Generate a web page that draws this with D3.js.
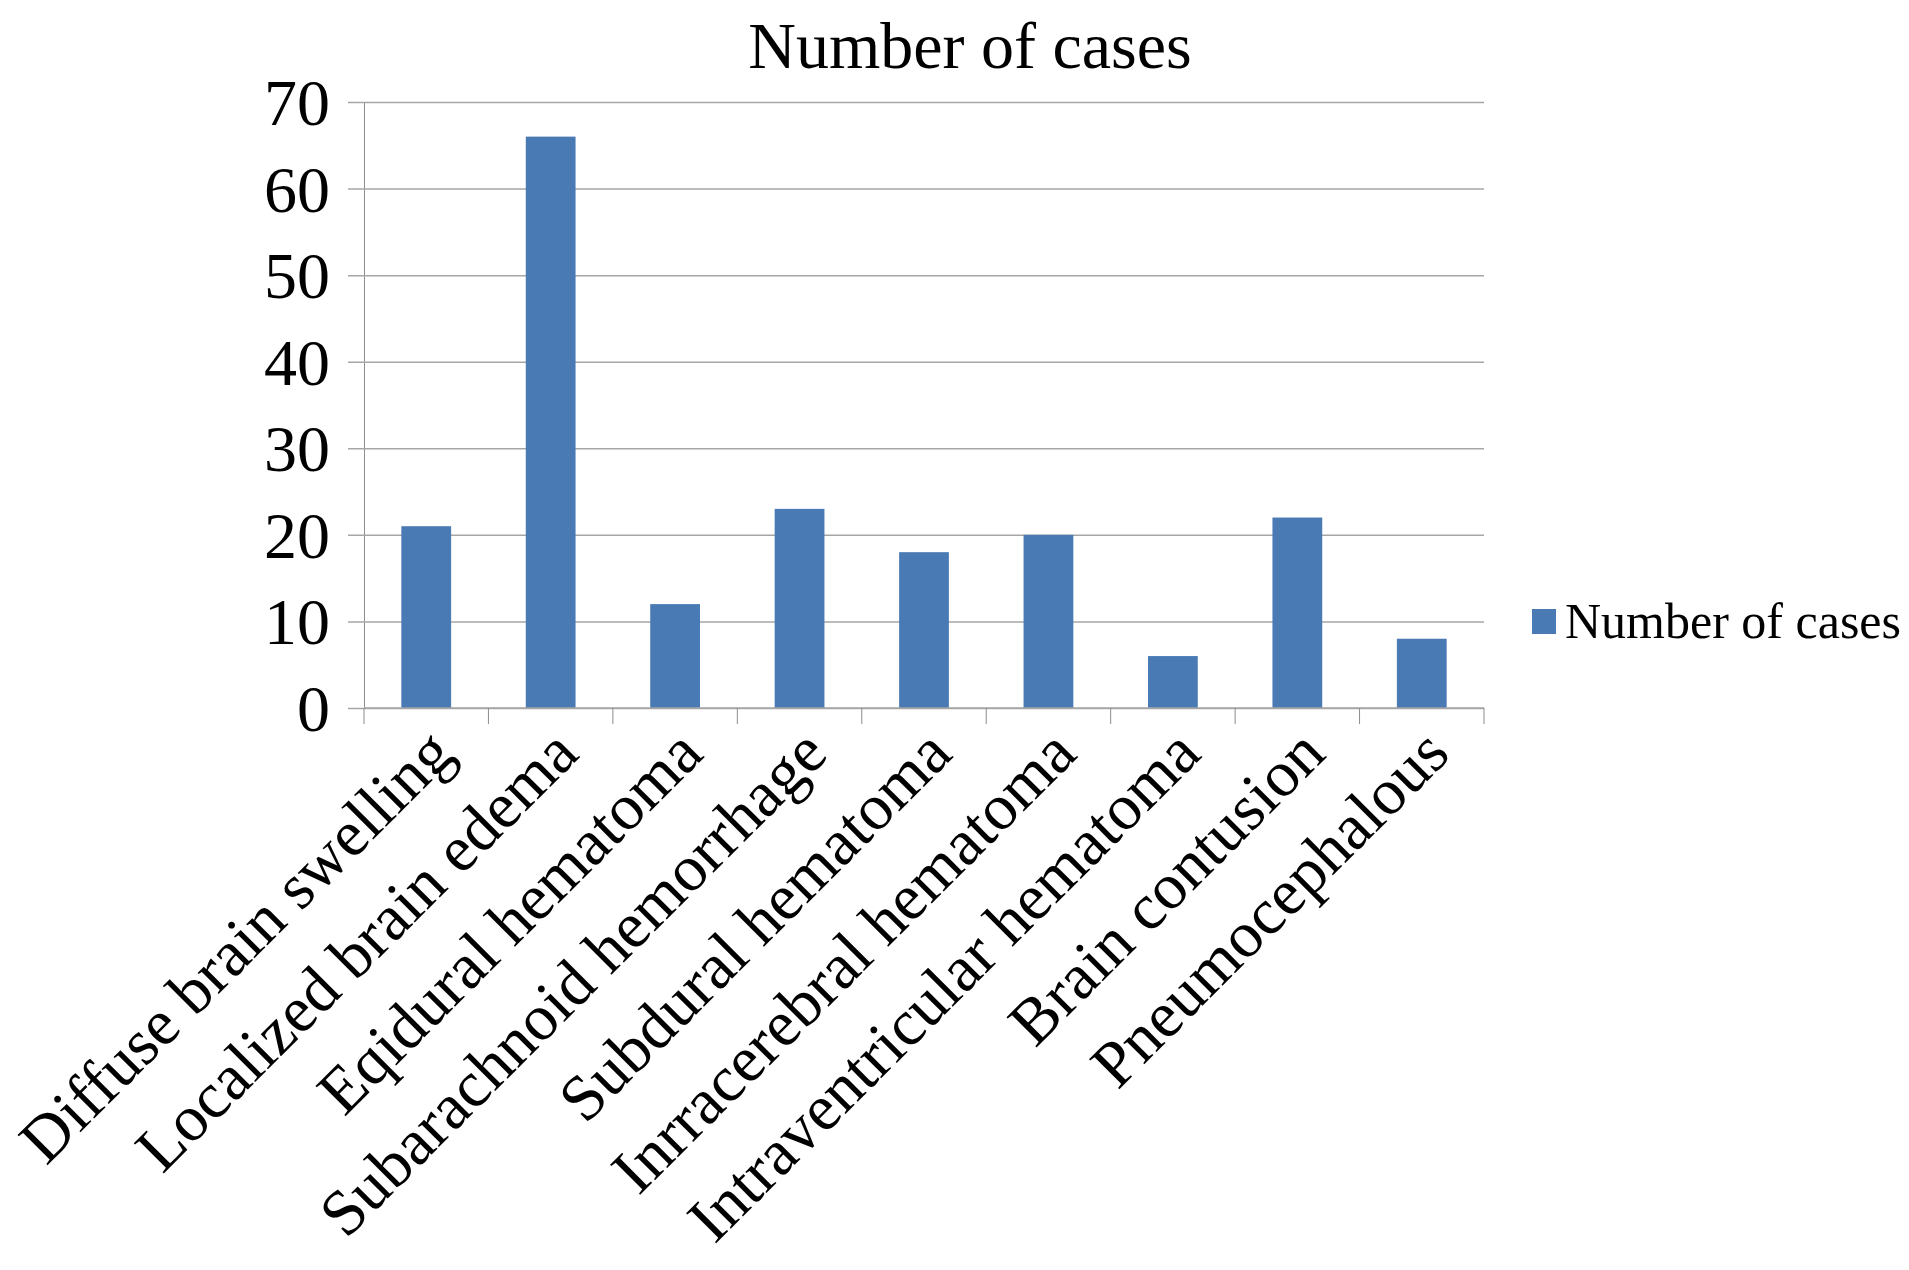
<!DOCTYPE html>
<html>
<head>
<meta charset="utf-8">
<script src="https://cdn.jsdelivr.net/npm/d3@7"></script>
<style>
  body { margin: 0; background: #fff; }
  text { font-family: "Liberation Serif", "Times New Roman", serif; fill: #000; }
</style>
</head>
<body>
<div class="vis-barchart"></div>
<script>
const categories = [
  'Diffuse brain swelling',
  'Localized brain edema',
  'Eqidural hematoma',
  'Subarachnoid hemorrhage',
  'Subdural hematoma',
  'Inrracerebral hematoma',
  'Intraventricular hematoma',
  'Brain contusion',
  'Pneumocephalous'
];
const cases = [21, 66, 12, 23, 18, 20, 6, 22, 8];
const yTicks = [0, 10, 20, 30, 40, 50, 60, 70];
const seriesName = 'Number of cases';

const draw = () => {
  const W = 1909;
  const H = 1270;
  const margin = {
    top: 102, right: 425, bottom: 562, left: 364
  };
  const width = W - margin.left - margin.right;
  const height = H - margin.top - margin.bottom;

  const root = d3
    .select('.vis-barchart')
    .append('svg')
    .attr('width', W)
    .attr('height', H);

  // Title
  root
    .append('text')
    .attr('x', 970)
    .attr('y', 68)
    .attr('text-anchor', 'middle')
    .style('font-size', '66px')
    .text(seriesName);

  const svg = root
    .append('g')
    .attr('transform', `translate(${margin.left},${margin.top})`);

  const x = d3
    .scaleBand()
    .domain(categories)
    .range([0, width])
    .paddingInner(0.6)
    .paddingOuter(0.3);

  const y = d3
    .scaleLinear()
    .domain([0, 70])
    .range([height, 0]);

  // gridlines + y ticks
  const yAxis = svg
    .append('g')
    .call(
      d3.axisLeft(y)
        .tickValues(yTicks)
        .tickSize(-width)
        .tickSizeOuter(0)
        .tickPadding(34)
    );
  yAxis.select('.domain').attr('stroke', '#8c8c8c');
  yAxis.selectAll('.tick line')
    .attr('x1', -16)
    .attr('stroke', '#a6a6a6')
    .attr('stroke-width', 1.5);
  yAxis.selectAll('.tick text')
    .attr('dy', '0.34em')
    .style('font-family', '"Liberation Serif", "Times New Roman", serif')
    .style('font-size', '66px');

  // bars
  svg
    .append('g')
    .selectAll('rect')
    .data(cases)
    .join('rect')
    .attr('x', (d, i) => x(categories[i]))
    .attr('y', (d) => y(d))
    .attr('width', x.bandwidth())
    .attr('height', (d) => height - y(d))
    .attr('fill', '#4a7ab4');

  // category axis: ticks at band boundaries
  const step = x.step();
  const bounds = d3.range(categories.length + 1).map((i) => i * step);
  const xAxis = svg
    .append('g')
    .attr('transform', `translate(0,${height})`);
  xAxis
    .append('line')
    .attr('x1', 0)
    .attr('x2', width)
    .attr('stroke', '#a6a6a6')
    .attr('stroke-width', 1.5);
  xAxis
    .selectAll('line.tk')
    .data(bounds)
    .join('line')
    .attr('class', 'tk')
    .attr('x1', (d) => d)
    .attr('x2', (d) => d)
    .attr('y1', 0)
    .attr('y2', 16)
    .attr('stroke', '#8c8c8c');

  xAxis
    .selectAll('text')
    .data(categories)
    .join('text')
    .attr('transform', (d) => `translate(${x(d) + x.bandwidth() / 2},18) rotate(-45)`)
    .attr('text-anchor', 'end')
    .attr('dy', '0.66em')
    .style('font-size', '65px')
    .text((d) => d);

  // legend
  const legend = root
    .append('g')
    .attr('transform', 'translate(1532,609)');
  legend
    .append('rect')
    .attr('width', 24)
    .attr('height', 25)
    .attr('fill', '#4a7ab4');
  legend
    .append('text')
    .attr('x', 33)
    .attr('y', 29)
    .style('font-size', '50px')
    .text(seriesName);
};

draw();
</script>
</body>
</html>
